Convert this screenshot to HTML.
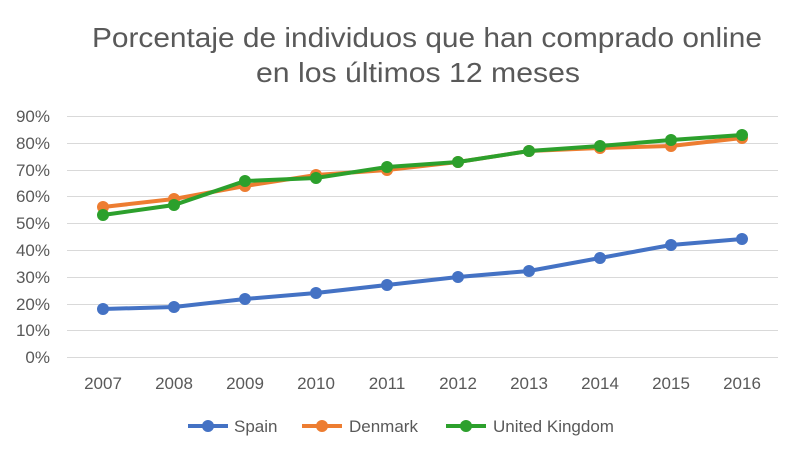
<!DOCTYPE html>
<html><head><meta charset="utf-8"><style>
body{margin:0;background:#fff;}
svg{display:block;font-family:"Liberation Sans",sans-serif;}
</style></head><body>
<svg width="800" height="456" viewBox="0 0 800 456" xmlns="http://www.w3.org/2000/svg">
<rect width="800" height="456" fill="#fff"/>
<g fill="#595959" font-size="28">
<text x="92" y="47" textLength="670" lengthAdjust="spacingAndGlyphs">Porcentaje de individuos que han comprado online</text>
<text x="256" y="82" textLength="324" lengthAdjust="spacingAndGlyphs">en los últimos 12 meses</text>
</g>
<g stroke="#d9d9d9" stroke-width="1">
<line x1="67" x2="778" y1="116.5" y2="116.5"/>
<line x1="67" x2="778" y1="143.5" y2="143.5"/>
<line x1="67" x2="778" y1="170.5" y2="170.5"/>
<line x1="67" x2="778" y1="196.5" y2="196.5"/>
<line x1="67" x2="778" y1="223.5" y2="223.5"/>
<line x1="67" x2="778" y1="250.5" y2="250.5"/>
<line x1="67" x2="778" y1="277.5" y2="277.5"/>
<line x1="67" x2="778" y1="304.5" y2="304.5"/>
<line x1="67" x2="778" y1="330.5" y2="330.5"/>
<line x1="67" x2="778" y1="357.5" y2="357.5"/>
</g>
<g fill="#595959" font-size="17" text-anchor="end">
<text x="50" y="122">90%</text><text x="50" y="149">80%</text><text x="50" y="176">70%</text>
<text x="50" y="202">60%</text><text x="50" y="229">50%</text><text x="50" y="256">40%</text>
<text x="50" y="283">30%</text><text x="50" y="310">20%</text><text x="50" y="336">10%</text>
<text x="50" y="363">0%</text>
</g>
<g fill="#595959" font-size="17" text-anchor="middle">
<text x="103" y="389">2007</text><text x="174" y="389">2008</text><text x="245" y="389">2009</text>
<text x="316" y="389">2010</text><text x="387" y="389">2011</text><text x="458" y="389">2012</text>
<text x="529" y="389">2013</text><text x="600" y="389">2014</text><text x="671" y="389">2015</text>
<text x="742" y="389">2016</text>
</g>
<g fill="#4472c4" stroke="#4472c4">
<polyline fill="none" stroke-width="4" points="103,309 174,307 245,299 316,293 387,285 458,277 529,271 600,258 671,245 742,239"/>
<g stroke="none">
<circle cx="103" cy="309" r="6"/><circle cx="174" cy="307" r="6"/><circle cx="245" cy="299" r="6"/><circle cx="316" cy="293" r="6"/><circle cx="387" cy="285" r="6"/><circle cx="458" cy="277" r="6"/><circle cx="529" cy="271" r="6"/><circle cx="600" cy="258" r="6"/><circle cx="671" cy="245" r="6"/><circle cx="742" cy="239" r="6"/>
</g></g>
<g fill="#ed7d31" stroke="#ed7d31">
<polyline fill="none" stroke-width="4" points="103,207 174,199 245,186 316,175 387,170 458,162 529,151 600,148 671,146 742,138"/>
<g stroke="none">
<circle cx="103" cy="207" r="6"/><circle cx="174" cy="199" r="6"/><circle cx="245" cy="186" r="6"/><circle cx="316" cy="175" r="6"/><circle cx="387" cy="170" r="6"/><circle cx="458" cy="162" r="6"/><circle cx="529" cy="151" r="6"/><circle cx="600" cy="148" r="6"/><circle cx="671" cy="146" r="6"/><circle cx="742" cy="138" r="6"/>
</g></g>
<g fill="#2ca02c" stroke="#2ca02c">
<polyline fill="none" stroke-width="4" points="103,215 174,205 245,181 316,178 387,167 458,162 529,151 600,146 671,140 742,135"/>
<g stroke="none">
<circle cx="103" cy="215" r="6"/><circle cx="174" cy="205" r="6"/><circle cx="245" cy="181" r="6"/><circle cx="316" cy="178" r="6"/><circle cx="387" cy="167" r="6"/><circle cx="458" cy="162" r="6"/><circle cx="529" cy="151" r="6"/><circle cx="600" cy="146" r="6"/><circle cx="671" cy="140" r="6"/><circle cx="742" cy="135" r="6"/>
</g></g>
<g font-size="17" fill="#595959">
<line x1="188" x2="228" y1="426" y2="426" stroke="#4472c4" stroke-width="4"/><circle cx="208" cy="426" r="6" fill="#4472c4"/>
<text x="234" y="432">Spain</text>
<line x1="302" x2="342" y1="426" y2="426" stroke="#ed7d31" stroke-width="4"/><circle cx="322" cy="426" r="6" fill="#ed7d31"/>
<text x="349" y="432">Denmark</text>
<line x1="446" x2="486" y1="426" y2="426" stroke="#2ca02c" stroke-width="4"/><circle cx="466" cy="426" r="6" fill="#2ca02c"/>
<text x="493" y="432">United Kingdom</text>
</g>
</svg>
</body></html>
